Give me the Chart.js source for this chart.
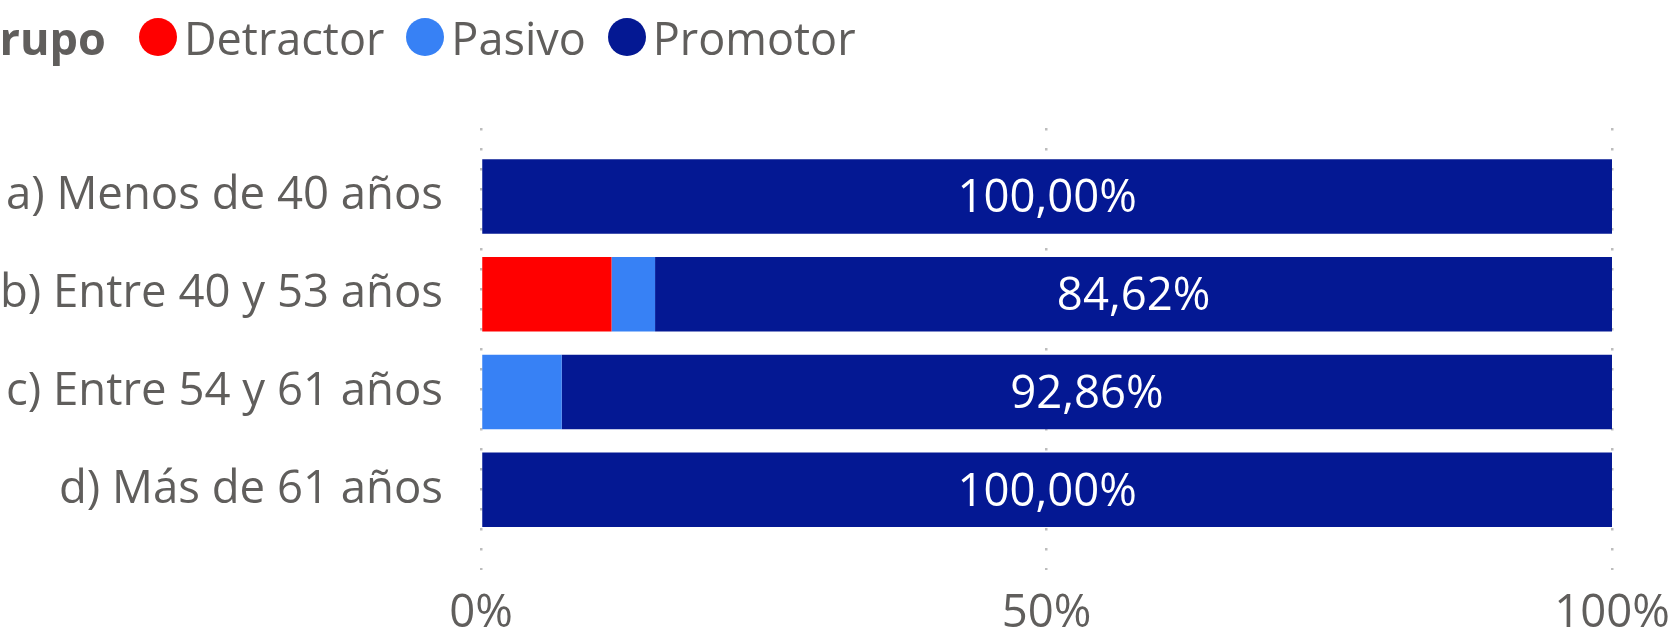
<!DOCTYPE html>
<html>
<head>
<meta charset="utf-8">
<script src="https://cdn.jsdelivr.net/npm/chart.js@4.4.0/dist/chart.umd.min.js"></script>
<style>
  body { margin: 0; background: #fff; overflow: hidden; }
  #wrap { position: relative; width: 1676px; height: 644px; overflow: hidden; }
  #legend { position: absolute; top: 0; left: -33px; height: 74px; display: flex; align-items: center;
            font-family: 'Open Sans'; font-size: 45px; color: #605E5C; white-space: nowrap; }
  #legend .title { font-weight: bold; margin-right: 33px; }
  #legend .dot { width: 38px; height: 38px; border-radius: 50%; margin-right: 7px; }
  #legend .item { display: flex; align-items: center; margin-right: 22px; }
  canvas { position: absolute; left: 0; top: 0; }
</style>
</head>
<body>
<div id="wrap">
  <canvas id="grupo" width="1676" height="644"></canvas>
  <div id="legend"><span class="title">Grupo</span></div>
</div>
<script>
var categories = ['a) Menos de 40 años', 'b) Entre 40 y 53 años', 'c) Entre 54 y 61 años', 'd) Más de 61 años'];
var detractor = [0, 11.54, 0, 0];
var pasivo = [0, 3.85, 7.14, 0];
var promotor = [100, 84.62, 92.86, 100];
var seriesNames = ['Detractor', 'Pasivo', 'Promotor'];
var seriesColors = ['#FF0000', '#3781F5', '#041893'];
var xTicks = [0, 50, 100];

var textColor = '#605E5C';
var fontSize = 45.5;
Chart.defaults.font.family = "'Open Sans'";

// legend (html, title is cut at the left like in the report)
var legend = document.getElementById('legend');
seriesNames.forEach(function(name, k) {
    var item = document.createElement('span');
    item.className = 'item';
    var dot = document.createElement('span');
    dot.className = 'dot';
    dot.style.background = seriesColors[k];
    item.appendChild(dot);
    item.appendChild(document.createTextNode(name));
    legend.appendChild(item);
});

// white value labels inside the bars, only when they fit
var barLabels = {
    id: 'barLabels',
    afterDatasetsDraw: function(chart) {
        var ctx = chart.ctx;
        ctx.save();
        ctx.font = fontSize + "px 'Open Sans'";
        ctx.fillStyle = '#ffffff';
        ctx.textAlign = 'center';
        ctx.textBaseline = 'middle';
        chart.data.datasets.forEach(function(ds, k) {
            chart.getDatasetMeta(k).data.forEach(function(bar, i) {
                var v = ds.data[i].x;
                if (!v) return;
                var txt = v.toFixed(2).replace('.', ',') + '%';
                var w = Math.abs(bar.x - bar.base);
                if (ctx.measureText(txt).width + 10 > w) return;
                ctx.fillText(txt, (bar.x + bar.base) / 2, bar.y + 3);
            });
        });
        ctx.restore();
    }
};

var series = [detractor, pasivo, promotor];
var datasets = series.map(function(vals, k) {
    return {
        label: seriesNames[k],
        backgroundColor: seriesColors[k],
        borderWidth: 0,
        stack: 'grupo',
        barPercentage: 0.762,
        categoryPercentage: 1,
        data: vals.map(function(v, i) { return { x: v, y: i }; })
    };
});

new Chart(document.getElementById('grupo'), {
    type: 'bar',
    data: { datasets: datasets },
    plugins: [barLabels],
    options: {
        indexAxis: 'y',
        responsive: false,
        animation: false,
        events: [],
        layout: { padding: { top: 128, right: 64, bottom: 0, left: 0 } },
        plugins: {
            legend: { display: false },
            tooltip: { enabled: false }
        },
        scales: {
            x: {
                type: 'linear',
                position: 'bottom',
                stacked: true,
                min: 0,
                max: 100,
                afterBuildTicks: function(scale) {
                    scale.ticks = xTicks.map(function(v) { return { value: v }; });
                },
                afterFit: function(scale) {
                    scale.height = 74;
                    scale.paddingLeft = 0;
                    scale.paddingRight = 0;
                },
                grid: { color: '#BDBDBD', lineWidth: 2.5, drawTicks: false },
                border: { display: false, dash: [2.5, 17.5] },
                ticks: {
                    padding: 17,
                    maxRotation: 0,
                    color: textColor,
                    font: { size: fontSize },
                    callback: function(v) { return v + '%'; }
                }
            },
            y: {
                type: 'linear',
                stacked: true,
                reverse: true,
                offset: false,
                min: -0.70,
                max: 3.82,
                afterBuildTicks: function(scale) {
                    scale.ticks = categories.map(function(c, i) { return { value: i }; });
                },
                afterFit: function(scale) {
                    scale.width = 481;
                    scale.paddingTop = 0;
                    scale.paddingBottom = 0;
                },
                grid: { display: false, drawTicks: false },
                border: { display: false },
                ticks: {
                    autoSkip: false,
                    padding: 38,
                    color: textColor,
                    font: { size: fontSize },
                    callback: function(v) { return categories[v]; }
                }
            }
        }
    }
});
</script>
</body>
</html>
